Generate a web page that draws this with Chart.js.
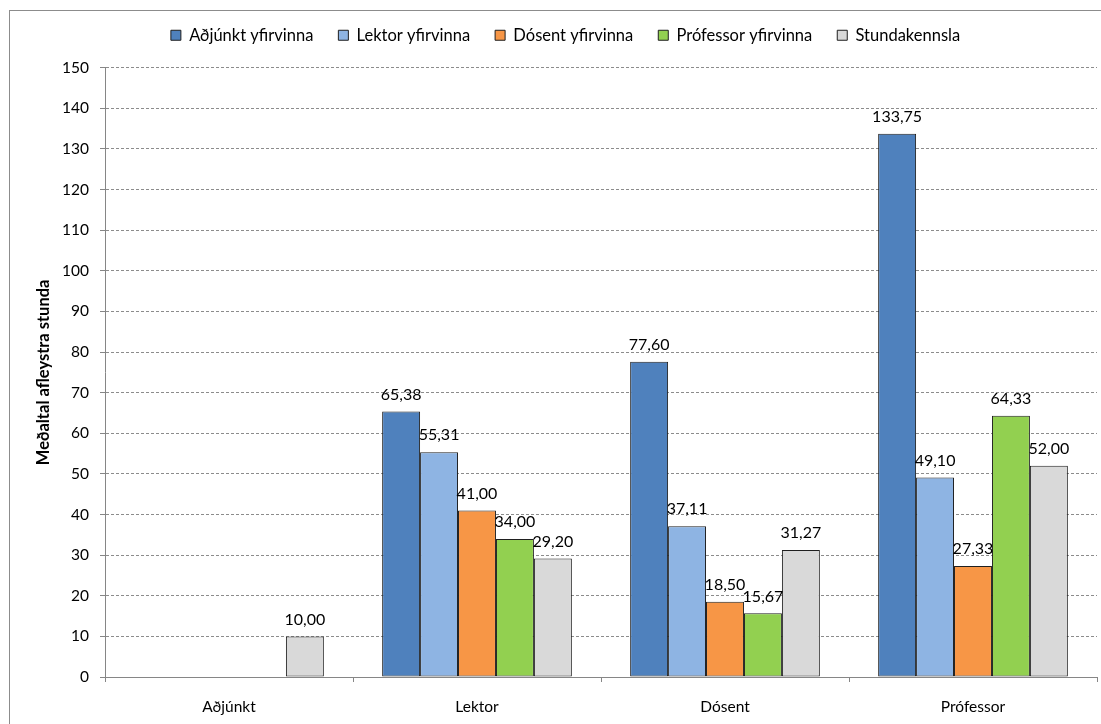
<!DOCTYPE html>
<html>
<head>
<meta charset="utf-8">
<script src="https://cdn.jsdelivr.net/npm/chart.js@4/dist/chart.umd.min.js"></script>
<style>
  html, body { margin: 0; padding: 0; background: #ffffff; }
  #wrap { width: 1101px; height: 724px; }
</style>
</head>
<body>
<div id="wrap"><canvas id="c" width="1101" height="724"></canvas></div>
<script>
const categories = ['Aðjúnkt', 'Lektor', 'Dósent', 'Prófessor'];
const seriesNames = ['Aðjúnkt yfirvinna', 'Lektor yfirvinna', 'Dósent yfirvinna', 'Prófessor yfirvinna', 'Stundakennsla'];
const adjunktYfirvinna = [null, 65.38, 77.60, 133.75];
const lektorYfirvinna = [null, 55.31, 37.11, 49.10];
const dosentYfirvinna = [null, 41.00, 18.50, 27.33];
const professorYfirvinna = [null, 34.00, 15.67, 64.33];
const stundakennsla = [10.00, 29.20, 31.27, 52.00];
const yTicks = [0, 10, 20, 30, 40, 50, 60, 70, 80, 90, 100, 110, 120, 130, 140, 150];
const yTitle = 'Meðaltal afleystra stunda';

const seriesValues = [adjunktYfirvinna, lektorYfirvinna, dosentYfirvinna, professorYfirvinna, stundakennsla];
const colors = ['#4F81BD', '#8EB4E3', '#F79646', '#92D050', '#D9D9D9'];
const FONT = 'Lato';

const fmt = v => v.toFixed(2).replace('.', ',');

const frame = {
  id: 'frame',
  beforeDraw(chart) {
    const ctx = chart.ctx;
    ctx.save();
    ctx.fillStyle = '#ffffff';
    ctx.fillRect(0, 0, chart.width, chart.height);
    ctx.strokeStyle = '#8c8c8c';
    ctx.lineWidth = 1;
    ctx.strokeRect(9.5, 10.5, 1300, 900);
    ctx.restore();
  }
};

const valueLabels = {
  id: 'valueLabels',
  afterDatasetsDraw(chart) {
    const ctx = chart.ctx;
    ctx.save();
    ctx.font = '16px ' + FONT;
    ctx.fillStyle = '#000000';
    ctx.textAlign = 'center';
    ctx.textBaseline = 'middle';
    chart.data.datasets.forEach((ds, i) => {
      const meta = chart.getDatasetMeta(i);
      meta.data.forEach((bar, j) => {
        const v = ds.data[j];
        if (v === null || v === undefined) return;
        ctx.fillText(fmt(v), bar.x, bar.y - 17);
      });
    });
    ctx.restore();
  }
};

new Chart(document.getElementById('c'), {
  type: 'bar',
  data: {
    labels: categories,
    datasets: seriesNames.map((name, i) => ({
      label: name,
      data: seriesValues[i],
      backgroundColor: colors[i],
      borderColor: '#1f1f1f',
      borderWidth: 1,
      borderSkipped: false,
      categoryPercentage: 0.765,
      barPercentage: 1.0
    }))
  },
  options: {
    responsive: false,
    animation: false,
    devicePixelRatio: 1,
    layout: { padding: { top: 2, left: 34, right: 4, bottom: 0 } },
    plugins: {
      tooltip: { enabled: false },
      title: {
        display: true,
        text: '',
        weight: 500,
        font: { size: 1 },
        padding: { top: 0, bottom: 13 }
      },
      legend: {
        position: 'top',
        labels: {
          font: { family: FONT, size: 16.5 },
          color: '#000000',
          boxWidth: 10,
          boxHeight: 10,
          padding: 25,
          generateLabels(chart) {
            return chart.data.datasets.map((ds, i) => ({
              text: ds.label,
              fillStyle: ds.backgroundColor,
              strokeStyle: '#1f1f1f',
              lineWidth: 1,
              hidden: false,
              datasetIndex: i
            }));
          }
        }
      }
    },
    scales: {
      x: {
        offset: true,
        grid: { display: true, drawOnChartArea: false, offset: true, tickLength: 5, color: '#868686' },
        border: { display: true, color: '#868686', width: 1 },
        ticks: { font: { family: FONT, size: 15.5 }, color: '#000000', padding: 16 },
        afterFit(scale) { scale.height = 47; }
      },
      y: {
        min: 0,
        max: 150,
        afterBuildTicks(scale) { scale.ticks = yTicks.map(v => ({ value: v })); },
        grid: { color: '#8c8c8c', tickLength: 5, tickColor: '#868686' },
        border: { display: true, color: '#868686', width: 1, dash: [3, 2] },
        ticks: { font: { family: FONT, size: 15.5 }, color: '#000000', padding: 11 },
        title: {
          display: true,
          text: yTitle,
          font: { family: FONT, size: 16.5, weight: 'bold' },
          color: '#000000',
          padding: { top: 0, bottom: 0 }
        },
        afterFit(scale) { scale.width = 71; }
      }
    }
  },
  plugins: [frame, valueLabels]
});
</script>
</body>
</html>
